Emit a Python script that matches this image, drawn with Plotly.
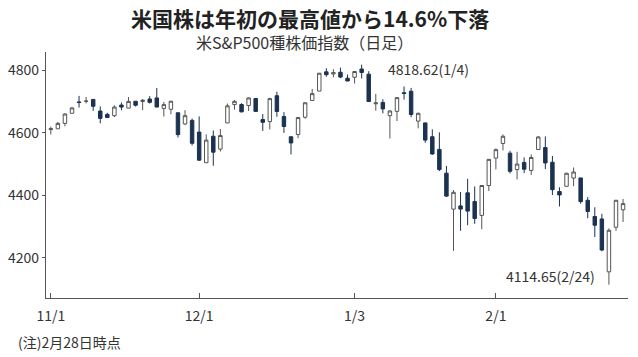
import plotly.graph_objects as go

dates = [
    "2021-11-01", "2021-11-02", "2021-11-03", "2021-11-04", "2021-11-05",
    "2021-11-08", "2021-11-09", "2021-11-10", "2021-11-11", "2021-11-12",
    "2021-11-15", "2021-11-16", "2021-11-17", "2021-11-18", "2021-11-19",
    "2021-11-22", "2021-11-23", "2021-11-24", "2021-11-26",
    "2021-11-29", "2021-11-30",
    "2021-12-01", "2021-12-02", "2021-12-03",
    "2021-12-06", "2021-12-07", "2021-12-08", "2021-12-09", "2021-12-10",
    "2021-12-13", "2021-12-14", "2021-12-15", "2021-12-16", "2021-12-17",
    "2021-12-20", "2021-12-21", "2021-12-22", "2021-12-23",
    "2021-12-27", "2021-12-28", "2021-12-29", "2021-12-30", "2021-12-31",
    "2022-01-03", "2022-01-04", "2022-01-05", "2022-01-06", "2022-01-07",
    "2022-01-10", "2022-01-11", "2022-01-12", "2022-01-13", "2022-01-14",
    "2022-01-18", "2022-01-19", "2022-01-20", "2022-01-21",
    "2022-01-24", "2022-01-25", "2022-01-26", "2022-01-27", "2022-01-28",
    "2022-01-31",
    "2022-02-01", "2022-02-02", "2022-02-03", "2022-02-04",
    "2022-02-07", "2022-02-08", "2022-02-09", "2022-02-10", "2022-02-11",
    "2022-02-14", "2022-02-15", "2022-02-16", "2022-02-17", "2022-02-18",
    "2022-02-22", "2022-02-23", "2022-02-24", "2022-02-25",
    "2022-02-28",
]

opens = [
    4610.62, 4613.34, 4630.65, 4662.93, 4699.26, 4701.48, 4707.25, 4670.26, 4659.39, 4655.24,
    4689.30, 4679.42, 4701.50, 4700.72, 4708.44, 4712.00, 4678.48, 4675.78, 4664.63, 4628.75, 4640.25,
    4602.82, 4504.73, 4589.49, 4548.37, 4631.97, 4690.86, 4691.00, 4687.64, 4710.30, 4642.99,
    4636.46, 4719.13, 4652.50, 4587.90, 4594.96, 4650.36, 4703.96, 4733.99, 4795.49, 4788.64, 4794.23, 4775.21,
    4778.14, 4804.51, 4787.99, 4693.39, 4697.66, 4655.34, 4669.14, 4728.59, 4733.56, 4637.99,
    4632.24, 4588.03, 4547.35, 4471.38, 4356.32, 4366.64, 4408.43, 4380.58, 4336.19, 4431.79,
    4519.57, 4566.39, 4535.41, 4482.79, 4505.75, 4480.02, 4547.00, 4553.24, 4506.27, 4412.61,
    4429.28, 4455.75, 4456.06, 4384.57, 4332.74, 4324.93, 4155.77, 4298.38, 4354.17,
]

highs = [
    4620.34, 4635.15, 4663.46, 4683.00, 4718.50, 4714.92, 4708.53, 4684.85, 4664.55, 4688.47,
    4697.42, 4714.95, 4701.50, 4708.80, 4717.75, 4743.83, 4699.39, 4702.87, 4664.63, 4672.95, 4646.02,
    4652.94, 4595.46, 4608.03, 4612.60, 4694.04, 4705.06, 4695.26, 4713.57, 4710.30, 4660.47,
    4712.60, 4731.99, 4666.70, 4587.90, 4651.14, 4697.67, 4740.74, 4791.49, 4807.02, 4804.06, 4808.93, 4786.83,
    4796.64, 4818.62, 4797.70, 4725.01, 4707.95, 4673.02, 4714.13, 4748.83, 4744.13, 4665.13,
    4632.24, 4611.55, 4602.11, 4494.52, 4417.35, 4411.01, 4453.23, 4428.74, 4432.72, 4516.89,
    4550.49, 4595.31, 4542.88, 4539.66, 4521.86, 4531.32, 4590.03, 4588.92, 4526.33, 4426.22,
    4472.77, 4489.55, 4456.06, 4394.60, 4362.12, 4341.51, 4294.73, 4385.34, 4388.84,
]

lows = [
    4595.06, 4613.34, 4621.19, 4662.59, 4681.32, 4694.39, 4670.87, 4630.86, 4648.31, 4650.77,
    4672.86, 4679.42, 4684.41, 4672.78, 4694.22, 4682.17, 4652.66, 4659.89, 4585.43, 4625.26, 4560.00,
    4510.27, 4504.73, 4495.12, 4540.51, 4631.97, 4674.52, 4665.98, 4670.24, 4667.60, 4606.52,
    4611.22, 4651.89, 4600.22, 4531.10, 4583.16, 4645.53, 4703.96, 4733.99, 4780.04, 4778.08, 4775.33, 4765.75,
    4758.17, 4774.27, 4699.44, 4671.26, 4662.74, 4582.24, 4638.27, 4706.71, 4650.29, 4614.75,
    4568.70, 4530.20, 4477.95, 4395.34, 4222.62, 4287.11, 4304.80, 4309.50, 4292.46, 4414.02,
    4483.53, 4544.32, 4470.39, 4451.50, 4471.47, 4465.40, 4547.00, 4484.31, 4401.41, 4364.84,
    4429.28, 4429.68, 4373.81, 4327.22, 4267.11, 4221.51, 4114.65, 4286.83, 4315.12,
]

closes = [
    4613.67, 4630.65, 4660.57, 4680.06, 4697.53, 4701.70, 4685.25, 4646.71, 4649.27, 4682.85,
    4682.80, 4700.90, 4688.67, 4704.54, 4697.96, 4682.94, 4690.70, 4701.46, 4594.62, 4655.27, 4567.00,
    4513.04, 4577.10, 4538.43, 4591.67, 4686.75, 4701.21, 4667.45, 4712.02, 4668.97, 4634.09,
    4709.85, 4668.67, 4620.64, 4568.02, 4649.23, 4696.56, 4725.79, 4791.19, 4786.35, 4793.06, 4778.73, 4766.18,
    4796.56, 4793.54, 4700.58, 4696.05, 4677.03, 4670.29, 4713.07, 4726.35, 4659.03, 4662.85,
    4577.11, 4532.76, 4482.73, 4397.94, 4410.13, 4356.45, 4349.93, 4326.51, 4431.85, 4515.55,
    4546.54, 4589.38, 4477.44, 4500.53, 4483.87, 4521.54, 4587.18, 4504.08, 4418.64, 4401.67,
    4471.07, 4475.01, 4380.26, 4348.87, 4304.76, 4225.50, 4288.70, 4384.65, 4373.94,
]

x_tick_vals = ["2021-11-01", "2021-12-01", "2022-01-03", "2022-02-01"]
x_tick_text = ["11/1", "12/1", "1/3", "2/1"]
y_tick_vals = [4200, 4400, 4600, 4800]

title_text = "米国株は年初の最高値から14.6%下落"
subtitle_text = "米S&amp;P500種株価指数（日足）"
peak_label = "4818.62(1/4)"
trough_label = "4114.65(2/24)"
note_text = "(注)2月28日時点"

FONT = "Noto Sans CJK JP"
NAVY = "#1b3251"
GRAY = "#555555"
TXT = "#333333"

fig = go.Figure(
    go.Candlestick(
        x=dates, open=opens, high=highs, low=lows, close=closes,
        increasing=dict(line=dict(color=GRAY, width=1), fillcolor="white"),
        decreasing=dict(line=dict(color=NAVY, width=1), fillcolor=NAVY),
        hoverinfo="skip",
    )
)

fig.update_layout(
    width=638, height=357,
    margin=dict(l=46, r=10, t=52, b=59, autoexpand=False),
    paper_bgcolor="white", plot_bgcolor="white",
    showlegend=False,
    font=dict(family=FONT, color=TXT, size=14),
    xaxis=dict(
        type="category", range=[-0.68, 81.7], automargin=False,
        tickvals=x_tick_vals, ticktext=x_tick_text,
        ticks="inside", ticklen=5, tickcolor=GRAY, tickwidth=1,
        ticklabelstandoff=5,
        showline=True, linecolor=GRAY, linewidth=1.2,
        showgrid=False, zeroline=False,
        rangeslider=dict(visible=False),
        tickfont=dict(size=14, color=TXT, family=FONT),
    ),
    yaxis=dict(
        range=[4072, 4859], automargin=False,
        tickvals=y_tick_vals,
        ticks="outside", ticklen=3, tickcolor=GRAY, tickwidth=1,
        showline=True, linecolor=GRAY, linewidth=1.2,
        showgrid=False, zeroline=False,
        tickfont=dict(size=14, color=TXT, family=FONT),
    ),
    annotations=[
        dict(text=f"<b>{title_text}</b>", xref="paper", yref="paper",
             x=0.4536, y=1.138, xanchor="center", yanchor="middle",
             showarrow=False, font=dict(size=21, color="#222222", family=FONT)),
        dict(text=subtitle_text, xref="paper", yref="paper",
             x=0.444, y=1.041, xanchor="center", yanchor="middle",
             showarrow=False, font=dict(size=16, color=TXT, family=FONT)),
        dict(text=peak_label, xref="paper", yref="paper",
             x=0.584, y=0.931, xanchor="left", yanchor="middle",
             showarrow=False, font=dict(size=14, color=TXT, family=FONT)),
        dict(text=trough_label, xref="paper", yref="paper",
             x=0.787, y=0.0894, xanchor="left", yanchor="middle",
             showarrow=False, font=dict(size=14, color=TXT, family=FONT)),
        dict(text=note_text, xref="paper", yref="paper",
             x=-0.0515, y=-0.178, xanchor="left", yanchor="middle",
             showarrow=False, font=dict(size=14, color=TXT, family=FONT)),
    ],
)

fig.write_html(
    "out.html",
    config={"displayModeBar": False, "staticPlot": True},
    post_script="document.body.style.margin='0';",
)
